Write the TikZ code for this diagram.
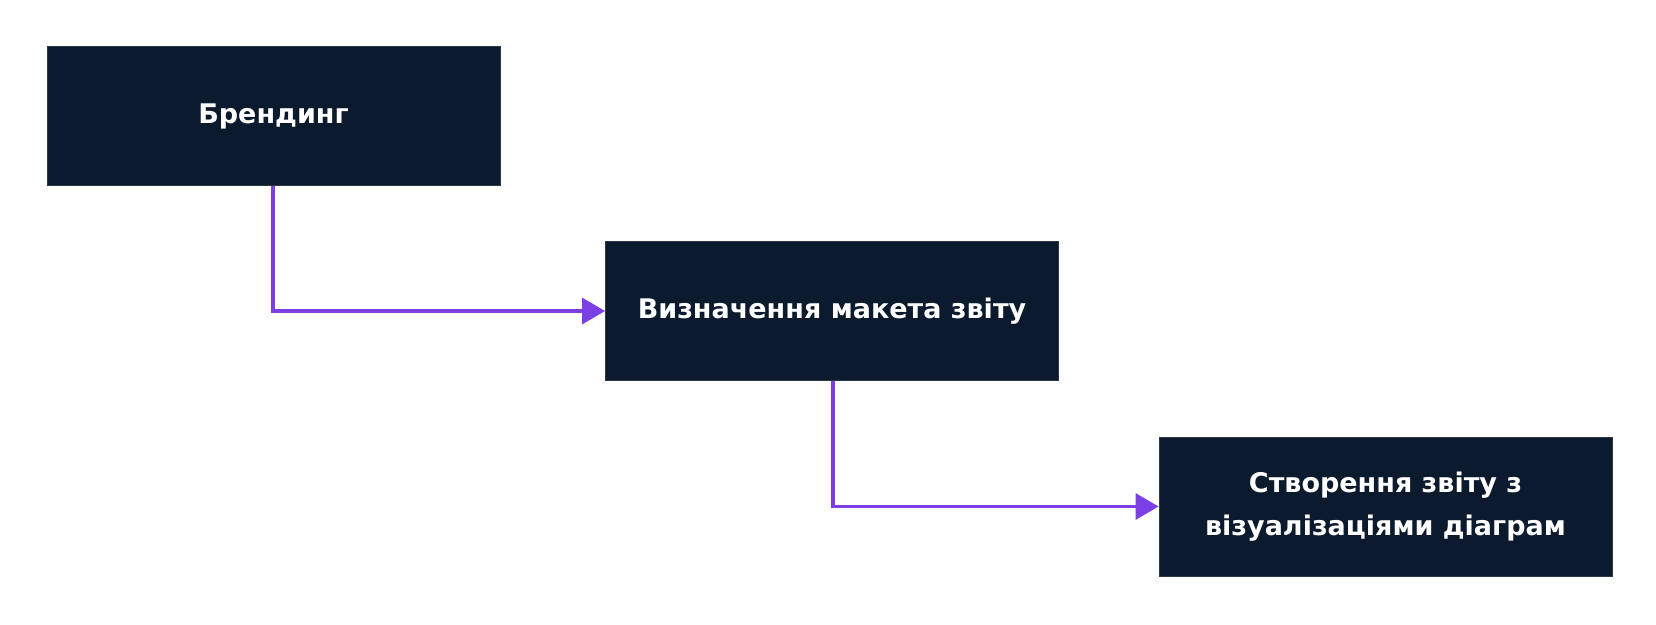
\documentclass[tikz,border=0pt]{standalone}
\usepackage{fontspec}
\setmainfont{DejaVu Sans}
\usetikzlibrary{arrows.meta}
\definecolor{boxfill}{HTML}{0B1A2C}
\definecolor{linkcol}{HTML}{7B3FE4}
\begin{document}
\begin{tikzpicture}[x=1pt,y=-1pt,
  stepbox/.style={draw=boxfill!70!gray, line width=0.8pt, fill=boxfill, text=white, minimum width=453pt, minimum height=139pt, align=center, inner sep=0pt, font=\fontsize{27}{43}\selectfont\bfseries},
  link/.style={draw=linkcol, line width=3.2pt, -{Triangle[length=23pt,width=26pt]}}]
\useasboundingbox (0,0) rectangle (1656,624);
\node[stepbox] (a) at (273.5,116) {Брендинг};
\node[stepbox] (b) at (832,311) {Визначення макета звіту};
\node[stepbox] (c) at (1385.5,506.5) {Створення звіту з\\візуалізаціями діаграм};
\draw[link] (a.south -| 273,0) |- (b.west);
\draw[link] (b.south -| 833,0) |- (c.west);
\end{tikzpicture}
\end{document}
